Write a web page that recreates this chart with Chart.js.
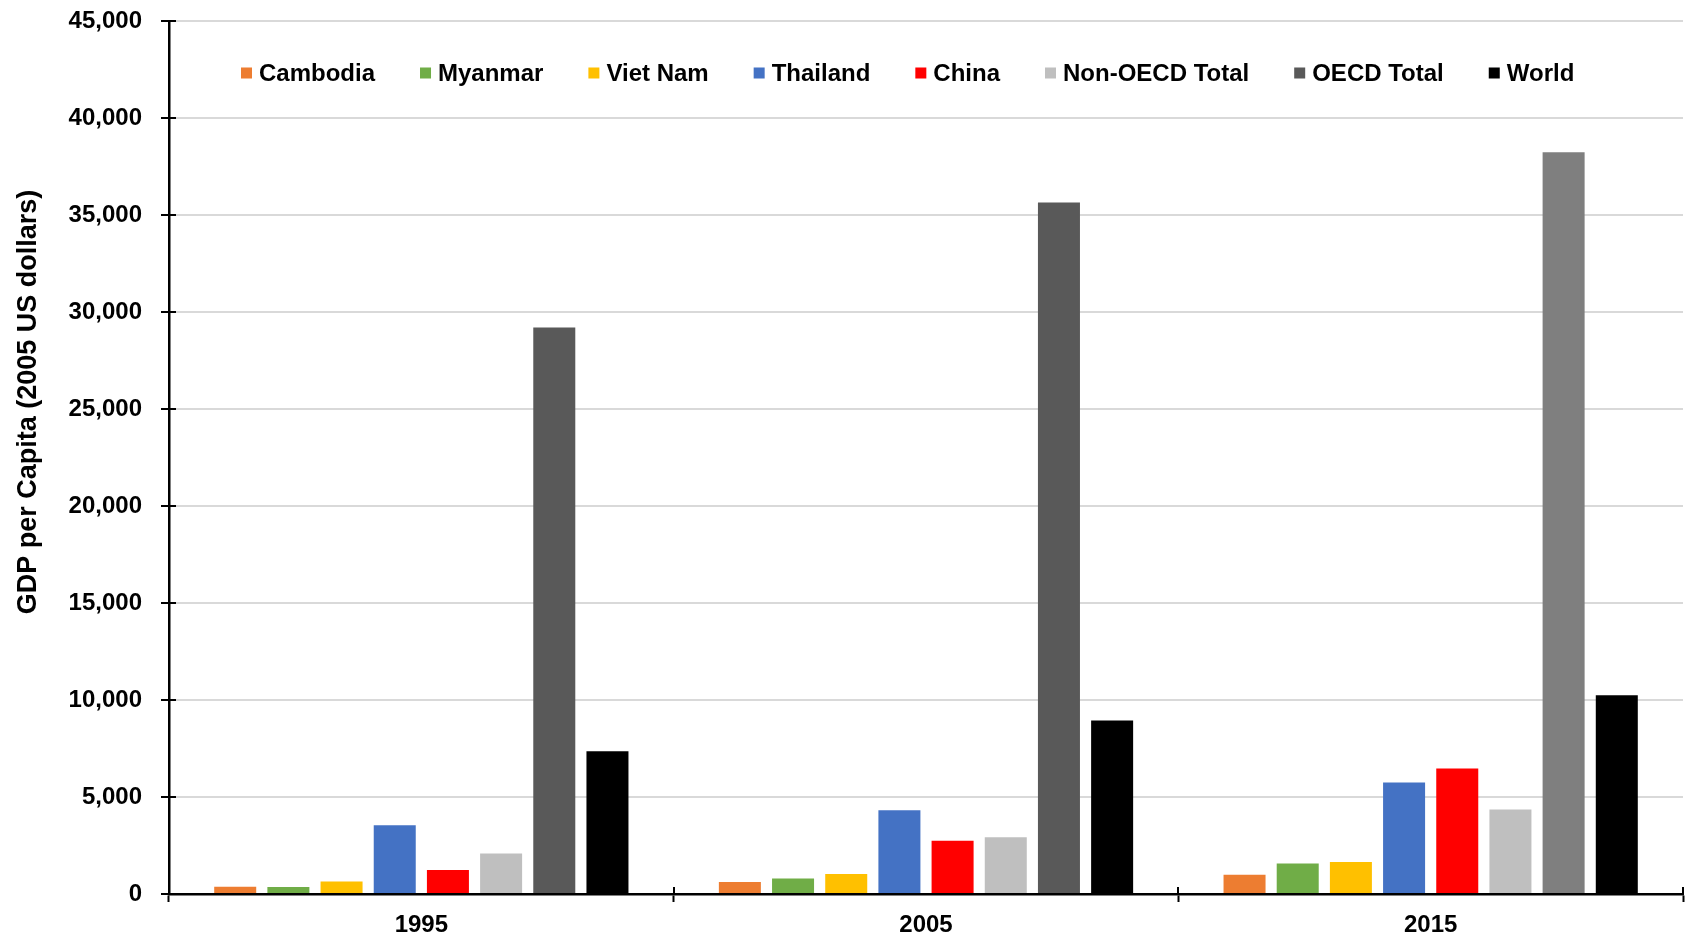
<!DOCTYPE html>
<html>
<head>
<meta charset="utf-8">
<script src="https://cdn.jsdelivr.net/npm/chart.js@4.4.1/dist/chart.umd.min.js"></script>
<style>
  html, body { margin: 0; padding: 0; background: #ffffff; }
  #wrap { width: 1692px; height: 934px; position: relative; }
</style>
</head>
<body>
<div id="wrap"><canvas id="gdp" width="1692" height="934"></canvas></div>
<script>
// GDP per capita, constant 2005 US dollars
const years = ['1995', '2005', '2015'];

const cambodia   = [377, 616, 995];
const myanmar    = [360, 805, 1578];
const vietNam    = [650, 1027, 1647];
const thailand   = [3545, 4315, 5746];
const china      = [1233, 2740, 6467];
const nonOecd    = [2089, 2928, 4357];
const oecd       = [29200, 35650, 38240];
const world      = [7363, 8938, 10240];

const seriesNames = ['Cambodia', 'Myanmar', 'Viet Nam', 'Thailand', 'China',
                     'Non-OECD Total', 'OECD Total', 'World'];
const seriesValues = [cambodia, myanmar, vietNam, thailand, china, nonOecd, oecd, world];
const seriesColors = ['#ED7D31', '#70AD47', '#FFC000', '#4472C4', '#FF0000',
                      '#BFBFBF', '#595959', '#000000'];
// the 2015 OECD bar is shaded lighter
const oecdBarColors = ['#595959', '#595959', '#7F7F7F'];

const yMin = 0, yMax = 45000, yStep = 5000;
const axisTitle = 'GDP per Capita (2005 US dollars)';

const FONT_FAMILY = "'Liberation Sans', Arial, Helvetica, sans-serif";

const datasets = seriesNames.map((name, i) => ({
  label: name,
  data: seriesValues[i],
  backgroundColor: name === 'OECD Total' ? oecdBarColors : seriesColors[i],
  borderWidth: 0,
  categoryPercentage: 0.843,
  barPercentage: 0.79
}));

// Legend drawn inside the plot area, in one row
const insideLegend = {
  id: 'insideLegend',
  afterDraw(chart, args, opts) {
    const { ctx, chartArea } = chart;
    ctx.save();
    ctx.font = `bold ${opts.fontSize}px ${FONT_FAMILY}`;
    ctx.textBaseline = 'middle';
    ctx.textAlign = 'left';
    let x = chartArea.left + opts.offsetX;
    const y = chartArea.top + opts.offsetY;
    chart.data.datasets.forEach((ds, i) => {
      ctx.fillStyle = seriesColors[i];
      ctx.fillRect(x, y - opts.box / 2, opts.box, opts.box);
      x += opts.box + opts.textGap;
      ctx.fillStyle = '#000000';
      ctx.fillText(ds.label, x, y + 1);
      x += ctx.measureText(ds.label).width + opts.itemGap;
    });
    ctx.restore();
  }
};

// Rotated value-axis title
const sideTitle = {
  id: 'sideTitle',
  afterDraw(chart, args, opts) {
    const { ctx } = chart;
    ctx.save();
    ctx.translate(opts.x, opts.y);
    ctx.rotate(-Math.PI / 2);
    ctx.font = `bold ${opts.fontSize}px ${FONT_FAMILY}`;
    ctx.fillStyle = '#000000';
    ctx.textAlign = 'center';
    ctx.textBaseline = 'middle';
    ctx.fillText(opts.text, 0, 0);
    ctx.restore();
  }
};

// Tick marks that cross the axis lines (inner half)
const crossTicks = {
  id: 'crossTicks',
  afterDraw(chart, args, opts) {
    const { ctx, chartArea, scales } = chart;
    ctx.save();
    ctx.strokeStyle = '#000000';
    ctx.lineWidth = 2;
    ctx.beginPath();
    scales.y.ticks.forEach(t => {
      const py = Math.round(scales.y.getPixelForValue(t.value));
      ctx.moveTo(chartArea.left, py);
      ctx.lineTo(chartArea.left + opts.len, py);
    });
    for (let i = 0; i <= years.length; i++) {
      const px = Math.round(scales.x.getPixelForValue(i - 0.5));
      ctx.moveTo(px, chartArea.bottom);
      ctx.lineTo(px, chartArea.bottom - opts.len);
    }
    ctx.stroke();
    ctx.restore();
  }
};

new Chart(document.getElementById('gdp'), {
  type: 'bar',
  data: { labels: years, datasets },
  plugins: [insideLegend, sideTitle, crossTicks],
  options: {
    responsive: false,
    devicePixelRatio: 1,
    animation: false,
    layout: { autoPadding: false, padding: { top: 21, right: 9, bottom: 0, left: 0 } },
    plugins: {
      legend: { display: false },
      tooltip: { enabled: false },
      insideLegend: { fontSize: 24, box: 11, textGap: 7, itemGap: 45, offsetX: 72, offsetY: 52 },
      sideTitle: { text: axisTitle, fontSize: 27, x: 29, y: 402 },
      crossTicks: { len: 7 }
    },
    scales: {
      x: {
        offset: true,
        afterFit(scale) { scale.height = 40; },
        grid: {
          offset: true,
          drawOnChartArea: false,
          drawTicks: true,
          tickLength: 8,
          tickColor: '#000000',
          tickWidth: 2
        },
        border: { display: true, color: '#000000', width: 2.5 },
        ticks: {
          color: '#000000',
          padding: 9,
          font: { family: FONT_FAMILY, size: 24, weight: 'bold' }
        }
      },
      y: {
        min: yMin,
        max: yMax,
        afterFit(scale) { scale.width = 169; scale.paddingTop = 0; scale.paddingBottom = 0; },
        grid: {
          color: '#D9D9D9',
          lineWidth: 2,
          drawTicks: true,
          tickLength: 8,
          tickColor: '#000000',
          tickWidth: 2
        },
        border: { display: true, color: '#000000', width: 2.5 },
        ticks: {
          stepSize: yStep,
          color: '#000000',
          padding: 19,
          font: { family: FONT_FAMILY, size: 24, weight: 'bold' },
          callback: v => v.toLocaleString('en-US')
        }
      }
    }
  }
});
</script>
</body>
</html>
